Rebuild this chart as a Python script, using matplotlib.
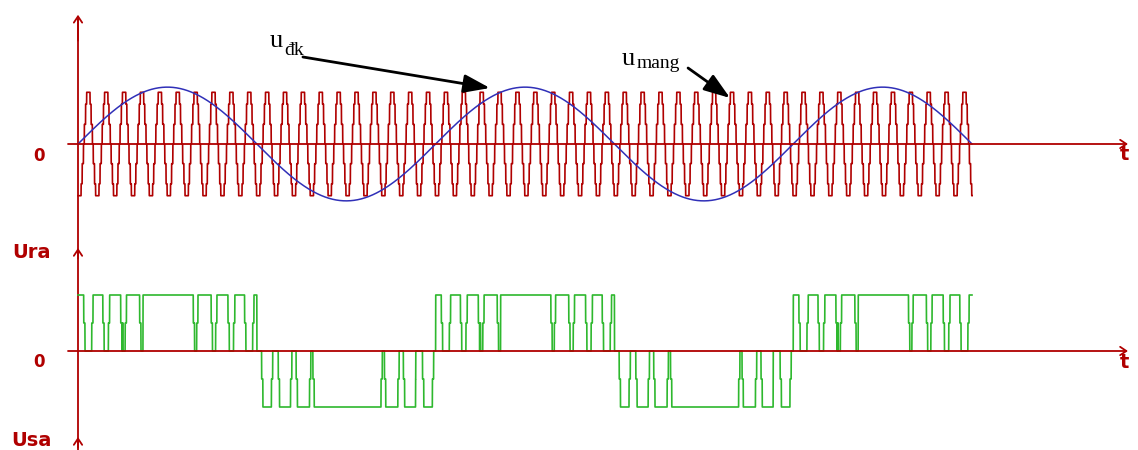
import numpy as np
import matplotlib.pyplot as plt

# waveform values (time in ms, carrier peak = 1)
T_END = 50.0
SINE_PERIOD = 20.0
SINE_AMP = 1.1
CARRIER_PERIOD = 1.0
CARRIER_PHASE = 0.326
CARRIER_LEVELS = [0.38, 0.77, 1.0]   # staircase steps of each carrier spike
CARRIER_EDGES = [0.1, 0.38, 0.62]    # where each step starts on the triangle
SWITCH_DELAY = 0.035                 # gives the short half-level steps in the output

RED = '#b00000'
BLUE = '#3030b8'
GREEN = '#2eb82e'

# layout: pixels per unit
PX_T = 17.88
PX_C = 51.7
PX_U = 28.0


def carrier(t):
    u = ((t - CARRIER_PHASE) / CARRIER_PERIOD) % 1.0
    tri = np.where(u < 0.5, 1 - 4 * np.abs(u - 0.25), -(1 - 4 * np.abs(u - 0.75)))
    mag = np.zeros_like(t)
    for edge, lev in zip(CARRIER_EDGES, CARRIER_LEVELS):
        mag = np.where(np.abs(tri) > edge, lev, mag)
    return np.sign(tri) * mag


t = np.arange(0, T_END + 1e-9, 0.002)
s = SINE_AMP * np.sin(2 * np.pi * t / SINE_PERIOD)
c = carrier(t)
ca = carrier(t - SWITCH_DELAY)
cb = carrier(t + SWITCH_DELAY)
out = np.where(s >= 0,
               (s > ca).astype(int) + (s > cb).astype(int),
               -((s < ca).astype(int) + (s < cb).astype(int)))

fig = plt.figure(figsize=(11.38, 4.5), dpi=100)
ax1 = fig.add_axes([0, 210 / 450, 1, 240 / 450])
ax2 = fig.add_axes([0, 0, 1, 210 / 450])
xlim = (-78 / PX_T, 1060 / PX_T)
ax1.set_xlim(xlim)
ax2.set_xlim(xlim)
ax1.set_ylim(-96 / PX_C, 144 / PX_C)
ax2.set_ylim(-99 / PX_U, 111 / PX_U)
for ax in (ax1, ax2):
    ax.axis('off')

head = '->,head_length=0.45,head_width=0.3'
kw = dict(color=RED, lw=1.3, shrinkA=0, shrinkB=0)

# axes lines
ax1.plot([0, 0], [-96 / PX_C, 2.4], color=RED, lw=1.3)
ax1.annotate('', xy=(0, 2.5), xytext=(0, 2.0), arrowprops=dict(arrowstyle=head, **kw))
ax2.plot([0, 0], [-99 / PX_U, 111 / PX_U], color=RED, lw=1.3)
ax2.annotate('', xy=(0, 3.68), xytext=(0, 3.3), arrowprops=dict(arrowstyle=head, **kw))
ax2.annotate('', xy=(0, -3.07), xytext=(0, -3.45), arrowprops=dict(arrowstyle=head, **kw))
for ax, ty in ((ax1, -11 / PX_C), (ax2, -11 / PX_U)):
    ax.annotate('', xy=(1128 / PX_T - 78 / PX_T, 0), xytext=(-10 / PX_T, 0),
                arrowprops=dict(arrowstyle=head, **kw))
    ax.text(1046 / PX_T, ty, 't', color=RED, fontsize=14, fontweight='bold',
            ha='center', va='center')

# upper: carrier and control sine
ax1.plot(t, c, color=RED, lw=1.2)
ax1.plot(t, s, color=BLUE, lw=1.1)

# lower: output voltage
ax2.plot(t, out, color=GREEN, lw=1.2)

# labels on the left
lab = dict(color=RED, fontweight='bold', ha='center', va='center')
ax1.text(-2.18, -12 / PX_C, '0', fontsize=12, **lab)
ax2.text(-2.6, 98 / PX_U, 'Ura', fontsize=14, **lab)
ax2.text(-2.18, -11 / PX_U, '0', fontsize=12, **lab)
ax2.text(-2.6, -90 / PX_U, 'Usa', fontsize=14, **lab)

# annotations
serif = 'Liberation Serif'
arr = dict(arrowstyle='-|>,head_length=0.8,head_width=0.28',
           color='black', lw=2, shrinkA=0, shrinkB=0, mutation_scale=20)
ax1.text(10.74, 1.876, 'u', fontsize=19, family=serif, va='baseline')
ax1.text(11.52, 1.72, 'đk', fontsize=14, family=serif, va='baseline')
ax1.annotate('', xy=(23.04, 1.083), xytext=(12.58, 1.683), arrowprops=arr)
ax1.text(30.43, 1.528, 'u', fontsize=19, family=serif, va='baseline')
ax1.text(31.26, 1.47, 'mang', fontsize=14, family=serif, va='baseline')
ax1.annotate('', xy=(36.47, 0.89), xytext=(34.12, 1.47), arrowprops=arr)

fig.savefig('out.png', dpi=100)
